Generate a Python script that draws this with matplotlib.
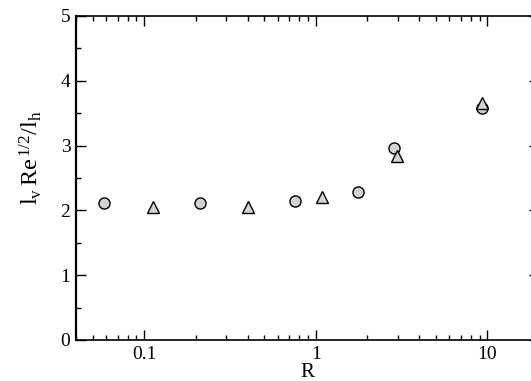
import matplotlib
matplotlib.use("Agg")
import matplotlib.pyplot as plt
from matplotlib.ticker import LogLocator, FixedLocator, MultipleLocator, FixedFormatter

plt.rcParams['font.family'] = ['Liberation Serif', 'DejaVu Serif']
plt.rcParams['mathtext.fontset'] = 'custom'
plt.rcParams['mathtext.rm'] = 'Liberation Serif'
plt.rcParams['mathtext.it'] = 'Liberation Serif'

# data
circle_R = [0.058, 0.21, 0.76, 1.75, 2.85, 9.35]
circle_y = [2.11, 2.12, 2.14, 2.28, 2.97, 3.58]
tri_R = [0.113, 0.40, 1.09, 2.98, 9.35]
tri_y = [2.05, 2.05, 2.21, 2.84, 3.66]
xtick_vals = [0.1, 1, 10]
xtick_labels = ["0.1", "1", "10"]

fig = plt.figure(figsize=(5.31, 3.81), dpi=100)
ax = fig.add_axes([76/531, 1-340/381, (539-76)/531, (340-16)/381])

ax.plot(circle_R, circle_y, 'o', ms=8, mfc='#d3d3d3', mec='black', mew=1.0, linestyle='none', clip_on=False)
ax.plot(tri_R, tri_y, '^', ms=8, mfc='#d3d3d3', mec='black', mew=1.0, linestyle='none', clip_on=False)

ax.set_xscale('log')
ax.set_xlim(0.04, 20)
ax.set_ylim(0, 5)
ax.xaxis.set_major_locator(FixedLocator(xtick_vals))
ax.xaxis.set_major_formatter(FixedFormatter(xtick_labels))
ax.xaxis.set_minor_locator(LogLocator(base=10, subs=range(2, 10)))
ax.xaxis.set_minor_formatter(plt.NullFormatter())
ax.yaxis.set_major_locator(MultipleLocator(1))
ax.yaxis.set_minor_locator(MultipleLocator(0.5))

ax.tick_params(which='both', direction='in', top=True, right=True, width=1.0)
ax.tick_params(which='major', length=7, labelsize=14, pad=4)
ax.tick_params(which='minor', length=3.5)
for s in ax.spines.values():
    s.set_linewidth(1.2)
ax.spines['left'].set_linewidth(1.6)

ax.set_xlabel('R', fontsize=15, labelpad=0)
fig.text(31/531, 1-158/381, r'$\mathregular{l_v\,Re^{\,1/2}/l_h}$', fontsize=17.5,
         rotation=90, ha='center', va='center')

fig.savefig('out.png', dpi=100)
